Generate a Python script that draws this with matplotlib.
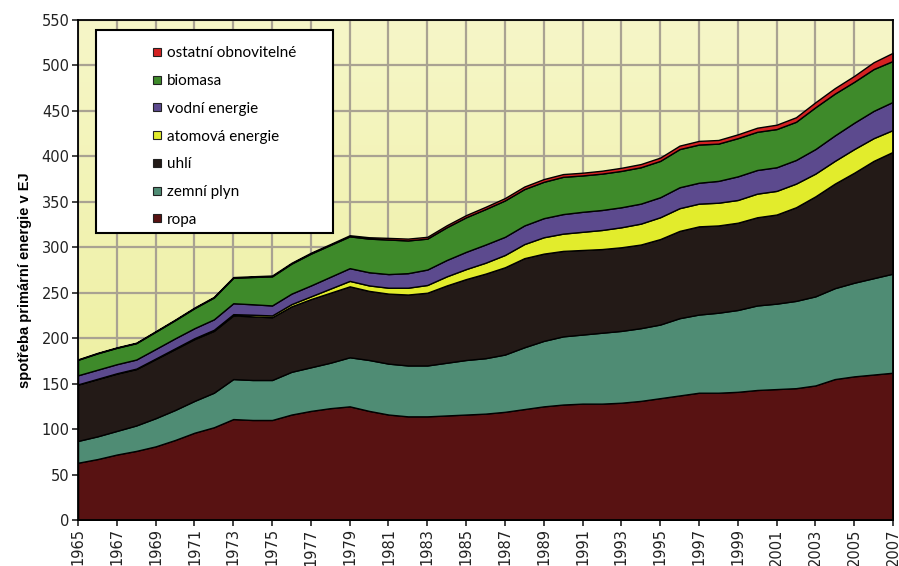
import numpy as np
import matplotlib.pyplot as plt
from matplotlib.patches import Rectangle
from matplotlib.colors import LinearSegmentedColormap

# roky 1965-2007
roky = list(range(1965, 2008))

# spotřeba podle zdroje v EJ
ropa = [63, 67, 72, 76, 81, 88, 96, 102, 111, 110, 110, 116, 120, 123, 125, 120, 116, 114, 114, 115,
        116, 117, 119, 122, 125, 127, 128, 128, 129, 131, 134, 137, 140, 140, 141, 143, 144, 145, 148,
        155, 158, 160, 162]
zemni_plyn = [24, 25, 26, 28, 31, 33, 35, 38, 44, 44, 44, 47, 48, 50, 54, 56, 56, 56, 56, 58,
              60, 61, 63, 68, 72, 75, 76, 78, 79, 80, 81, 85, 86, 88, 90, 93, 94, 96, 98,
              100, 103, 106, 109]
uhli = [62, 63, 63, 62, 65, 67, 68, 68, 70, 70, 69, 72, 75, 77, 78, 76, 77, 78, 80, 85,
        89, 93, 96, 98, 96, 94, 93, 92, 92, 92, 94, 96, 97, 96, 96, 97, 98, 103, 110,
        115, 121, 129, 134]
atomova = [0.2, 0.3, 0.4, 0.5, 0.6, 0.8, 1.0, 1.2, 1.4, 1.8, 2, 2.5, 3, 4.5, 6, 6, 6.5, 7.5, 8.5, 10,
           11, 12, 13.5, 15.5, 18, 19, 20, 21, 22, 23, 24, 25, 25, 25, 25, 26, 26, 26, 25,
           25, 26, 25, 24]
vodni = [10, 10, 10, 10, 10.5, 11, 11, 11.5, 12, 11.5, 11, 11.5, 12, 13, 14, 14.5, 15, 16, 17, 18,
         19, 20, 20, 20.5, 21, 21.5, 22, 22, 22, 22, 22, 23, 23, 24, 26, 26, 26, 26, 27,
         28, 29, 30, 31]
biomasa = [17, 18, 18, 18, 19, 20, 22, 24, 28, 30, 32, 33, 35, 35, 35, 37, 38, 36, 34, 36,
           38, 39, 40, 40, 40, 41, 40, 40, 40, 40, 40, 42, 42, 41, 42, 42, 42, 42, 46,
           46, 45, 46, 45]
ostatni = [0.5, 0.5, 0.5, 0.5, 0.6, 0.6, 0.7, 0.7, 0.8, 0.8, 0.9, 0.9, 1, 1, 1.2, 1.5, 1.8, 2, 2, 2.2,
           2.4, 2.5, 2.6, 2.8, 3, 3, 3, 3.2, 3.4, 3.5, 3.6, 3.8, 4, 4, 4.2, 4.5, 4.8, 5, 5.5,
           6, 6.5, 7.5, 9]

nazvy = ['ropa', 'zemní plyn', 'uhlí', 'atomová energie', 'vodní energie', 'biomasa',
         'ostatní obnovitelné']
barvy = ['#581212', '#4f8c74', '#231a17', '#e2ec2c', '#5c4a8e', '#3e8a2a', '#d42222']

fig = plt.figure(figsize=(8.99, 5.66), dpi=100)
ax = fig.add_axes([0.0868, 0.0813, 0.9065, 0.8834])

# žluté pozadí s přechodem
prechod = LinearSegmentedColormap.from_list('pozadi', ['#ebee94', '#f6f6c8'])
ax.imshow(np.linspace(0, 1, 256).reshape(-1, 1), cmap=prechod, origin='lower',
          extent=[1965, 2007, 0, 550], aspect='auto', zorder=0)

for r in range(1965, 2008, 2):
    ax.axvline(r, color='#a9a292', lw=1.6, zorder=1)
for h in range(50, 551, 50):
    ax.axhline(h, color='#a9a292', lw=1.6, zorder=1)

ax.stackplot(roky, ropa, zemni_plyn, uhli, atomova, vodni, biomasa, ostatni,
             colors=barvy, edgecolor='black', linewidth=1.0, zorder=2)

ax.set_xlim(1965, 2007)
ax.set_ylim(0, 550)
ax.set_xticks(range(1965, 2008, 2))
ax.set_xticklabels([str(r) for r in range(1965, 2008, 2)], rotation=90)
ax.set_yticks(range(0, 551, 50))
pismo = ['Liberation Sans Narrow', 'DejaVu Sans']
for t in ax.get_xticklabels() + ax.get_yticklabels():
    t.set_family(pismo)
    t.set_fontsize(10.5)
    t.set_color('#222222')
ax.tick_params(direction='out', length=4, width=1.2, colors='#222222', pad=2)
for s in ax.spines.values():
    s.set_linewidth(1.3)
    s.set_zorder(5)

ax.set_ylabel('spotřeba primární energie v EJ', fontsize=10.5, fontweight='bold',
              family=['Liberation Sans', 'DejaVu Sans'])
ax.yaxis.set_label_coords(-0.057, 0.48)

# rámeček legendy
ax.add_patch(Rectangle((0.022, 0.574), 0.291, 0.406, transform=ax.transAxes,
                       facecolor='white', edgecolor='black', lw=1.5, zorder=6))
znacky = [plt.Line2D([], [], marker='s', ls='', markersize=6, markerfacecolor=c,
                     markeredgecolor='#222222', markeredgewidth=0.8) for c in barvy]
leg = ax.legend(znacky[::-1], nazvy[::-1], loc='upper left', bbox_to_anchor=(0.073, 0.978),
                frameon=False, handlelength=0.6, handletextpad=0.3, labelspacing=0.9,
                borderpad=0.5, prop={'family': ['Lato', 'DejaVu Sans'], 'size': 11})
leg.set_zorder(7)

fig.savefig('out.png', dpi=100)
